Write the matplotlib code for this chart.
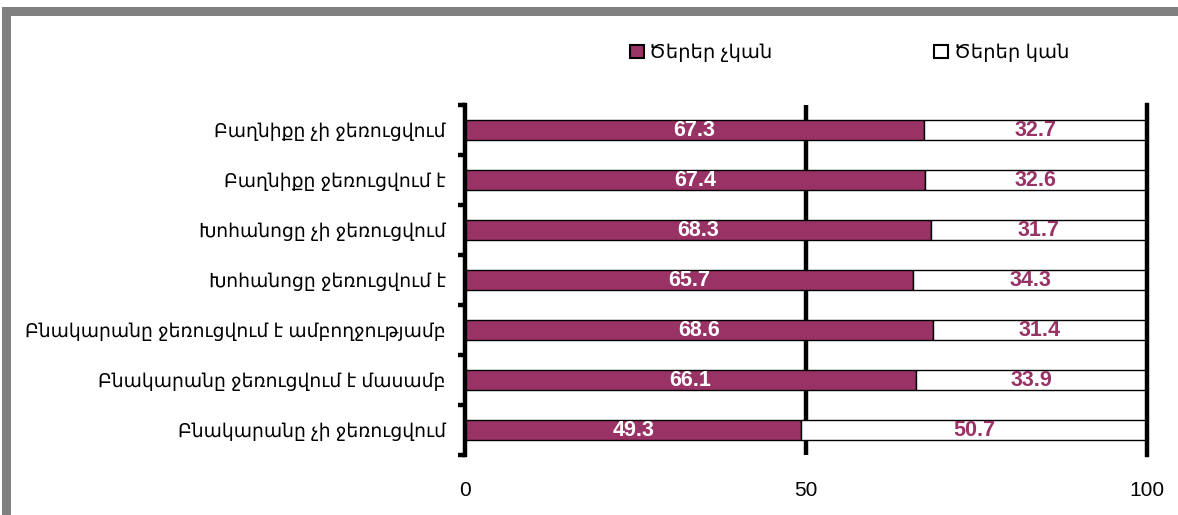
import matplotlib
matplotlib.use("Agg")
import matplotlib.pyplot as plt
from matplotlib.patches import Rectangle, Patch
import numpy as np

plt.rcParams['font.family'] = ['Liberation Sans', 'DejaVu Sans']

categories = [
    "Բաղնիքը չի ջեռուցվում",
    "Բաղնիքը ջեռուցվում է",
    "Խոհանոցը չի ջեռուցվում",
    "Խոհանոցը ջեռուցվում է",
    "Բնակարանը ջեռուցվում է ամբողջությամբ",
    "Բնակարանը ջեռուցվում է մասամբ",
    "Բնակարանը չի ջեռուցվում",
]
no_trees = [67.3, 67.4, 68.3, 65.7, 68.6, 66.1, 49.3]
with_trees = [32.7, 32.6, 31.7, 34.3, 31.4, 33.9, 50.7]
series_names = ["Ծերեր չկան", "Ծերեր կան"]
x_ticks = [0, 50, 100]

PURPLE = "#993366"

W, H = 1178, 515
fig = plt.figure(figsize=(W / 100, H / 100), dpi=100)

# grey frame along the top and left edges
fig.patches.append(Rectangle((2 / W, 0), 9 / W, 1 - 7 / H, transform=fig.transFigure,
                             facecolor="#808080", edgecolor="none", zorder=0))
fig.patches.append(Rectangle((2 / W, 1 - 16 / H), 1 - 2 / W, 9 / H, transform=fig.transFigure,
                             facecolor="#808080", edgecolor="none", zorder=0))

ax = fig.add_axes([465 / W, 1 - 455 / H, (1147 - 465) / W, 350 / H])

y = np.arange(len(categories))
h = 0.41
ax.barh(y, no_trees, height=h, color=PURPLE, edgecolor="black", linewidth=1, zorder=2)
ax.barh(y, with_trees, left=no_trees, height=h, color="white", edgecolor="black",
        linewidth=1, zorder=2)

for yi, a, b in zip(y, no_trees, with_trees):
    ax.text(a / 2, yi + 0.02, f"{a:.1f}", ha="center", va="center", color="white",
            fontsize=15.5, fontweight="bold", zorder=4)
    ax.text(a + b / 2, yi + 0.02, f"{b:.1f}", ha="center", va="center", color=PURPLE,
            fontsize=15.5, fontweight="bold", zorder=4)

ax.set_xlim(0, 100)
ax.set_ylim(len(categories) - 0.5, -0.5)

ax.axvline(50, color="black", linewidth=3.2, zorder=1)
ax.axvline(100, color="black", linewidth=3.2, zorder=3, clip_on=False)

for s in ["top", "right", "bottom"]:
    ax.spines[s].set_visible(False)
ax.spines["left"].set_linewidth(3.2)
ax.spines["left"].set_zorder(3)

ax.set_yticks(y)
ax.set_yticklabels(categories, fontsize=13.5)
ax.set_yticks(np.arange(-0.5, len(categories), 1), minor=True)
ax.tick_params(axis="y", which="major", length=0, pad=14)
ax.tick_params(axis="y", which="minor", length=5, width=3.2, direction="out")

ax.set_xticks(x_ticks)
ax.set_xticklabels([str(v) for v in x_ticks], fontsize=15)
ax.tick_params(axis="x", length=0, pad=19)

handles = [Patch(facecolor=PURPLE, edgecolor="black", linewidth=1.5),
           Patch(facecolor="white", edgecolor="black", linewidth=1.5)]
fig.legend(handles, series_names, loc="center left", bbox_to_anchor=(630 / W, 1 - 53 / H),
           ncol=2, frameon=False, fontsize=14, handlelength=0.7, handleheight=0.7,
           handletextpad=0.3, columnspacing=8.3, borderaxespad=0, borderpad=0)

fig.savefig("out.png", dpi=100)
